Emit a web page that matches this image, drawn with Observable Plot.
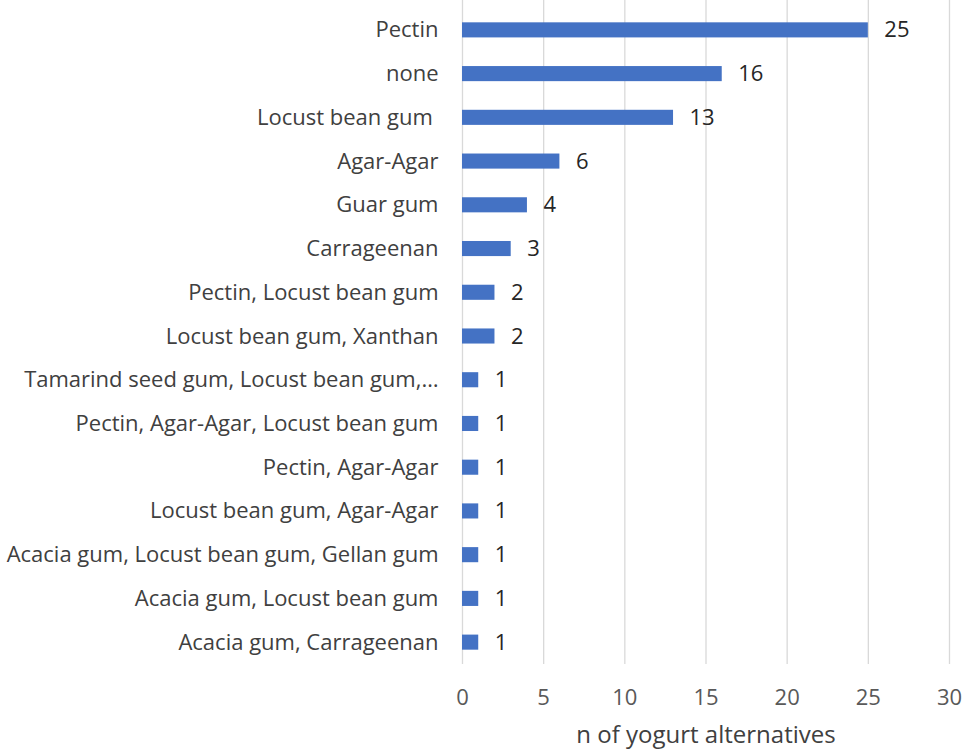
<!DOCTYPE html>
<html><head><meta charset="utf-8">
<script src="https://cdn.jsdelivr.net/npm/d3@7"></script>
<script src="https://cdn.jsdelivr.net/npm/@observablehq/plot@0.6"></script>
<style>
body{margin:0;background:#fff;}
#chart svg{font-family:"Open Sans",sans-serif;}
</style>
</head><body><div id="chart"></div>
<script>
const categories = [
  "Pectin","none","Locust bean gum\u00a0","Agar-Agar","Guar gum","Carrageenan",
  "Pectin, Locust bean gum","Locust bean gum, Xanthan","Tamarind seed gum, Locust bean gum,…",
  "Pectin, Agar-Agar, Locust bean gum","Pectin, Agar-Agar","Locust bean gum, Agar-Agar",
  "Acacia gum, Locust bean gum, Gellan gum","Acacia gum, Locust bean gum","Acacia gum, Carrageenan"
];
const counts = [25,16,13,6,4,3,2,2,1,1,1,1,1,1,1];
const xTicks = [0,5,10,15,20,25,30];
const xLabel = "n of yogurt alternatives";

const data = categories.map((c,i)=>({cat:c, n:counts[i]}));

const chart = Plot.plot({
  width: 966,
  height: 749,
  marginLeft: 462,
  marginRight: 17,
  marginTop: 8,
  marginBottom: 85,
  style: {fontSize: "22px", fontFamily: "'Open Sans', sans-serif", color: "#404040", background: "#fff"},
  x: {domain: [0,30], ticks: xTicks, label: null, tickSize: 0},
  y: {domain: categories, label: null, tickSize: 0, paddingInner: 0.655, paddingOuter: 0.3275, round: false},
  marks: [
    Plot.gridX(xTicks, {stroke: "#d9d9d9", strokeOpacity: 1, strokeWidth: 1.3, insetTop: -8}),
    Plot.barX(data, {y: "cat", x: "n", fill: "#4472c4"}),
    Plot.text(data, {y: "cat", x: "n", text: d => String(d.n), dx: 16, textAnchor: "start", fill: "#262626", fontSize: 22}),
    Plot.axisX(xTicks, {tickSize: 0, tickPadding: 25, label: null, fontSize: 22, fill: "#595959"}),
    Plot.axisY(categories, {tickSize: 0, tickPadding: 24, label: null, fontSize: 22, fill: "#404040"}),
    Plot.text([xLabel], {frameAnchor: "bottom", dy: 71, text: d => d, fontSize: 24, fill: "#404040", lineAnchor: "middle"})
  ]
});
document.getElementById("chart").appendChild(chart);
</script>
</body></html>
